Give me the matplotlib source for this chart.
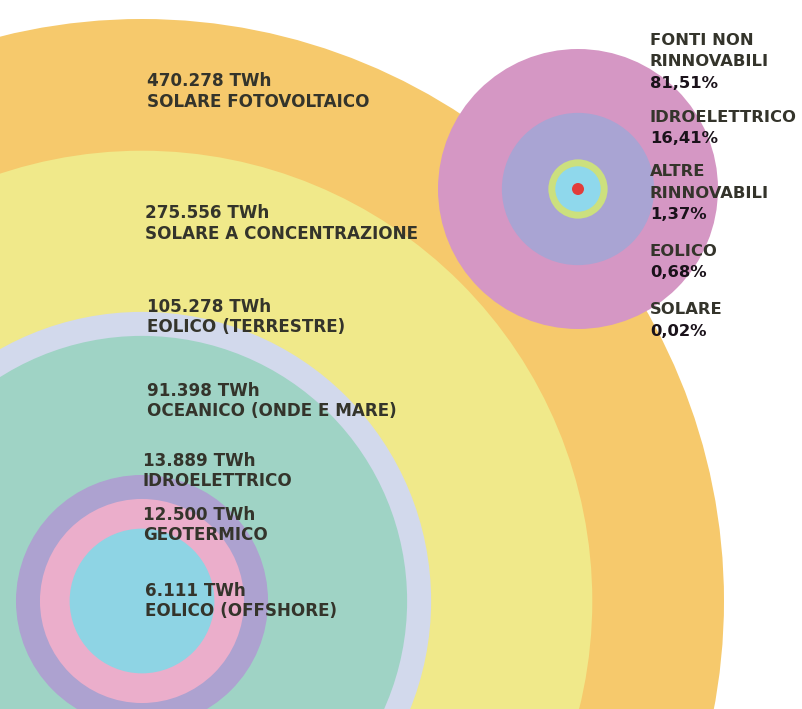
import numpy as np
import matplotlib
matplotlib.use("Agg")
import matplotlib.pyplot as plt
from matplotlib.patches import Circle

# Potenziale tecnico annuo delle fonti rinnovabili (TWh)
sources = ["SOLARE FOTOVOLTAICO", "SOLARE A CONCENTRAZIONE", "EOLICO (TERRESTRE)",
           "OCEANICO (ONDE E MARE)", "IDROELETTRICO", "GEOTERMICO", "EOLICO (OFFSHORE)"]
potential_twh = [470278, 275556, 105278, 91398, 13889, 12500, 6111]
source_colors = ["#F6C96C", "#F0E98A", "#D2D9EC", "#9FD3C5", "#ADA2D0", "#EBAECB", "#8ED4E4"]

# Quota attuale della produzione elettrica mondiale (%)
mix_labels = ["FONTI NON\nRINNOVABILI", "IDROELETTRICO", "ALTRE\nRINNOVABILI", "EOLICO", "SOLARE"]
mix_share = [81.51, 16.41, 1.37, 0.68, 0.02]
mix_colors = ["#D597C4", "#A9A4D3", "#CCE07E", "#8FD8EC", "#E23C3A"]

TEXT = "#34342b"
FONT = ["DejaVu Sans"]
FS = 12.1


def nested_radii(values, r_outer, exponent, min_ring):
    """Radius of each nested disc from its value; thin rings get a minimum width."""
    v = np.asarray(values, dtype=float)
    r = r_outer * (v / v.max()) ** exponent
    out = r.copy()
    prev = 0.0
    for i in np.argsort(v):
        out[i] = max(r[i], prev + min_ring)
        prev = out[i]
    return out


def fmt_twh(v):
    return f"{v:,}".replace(",", ".") + " TWh"


def fmt_pct(v):
    return f"{v:.2f}".replace(".", ",") + "%"


W, H = 803, 709
fig = plt.figure(figsize=(W / 100, H / 100), dpi=100)
ax = fig.add_axes([0, 0, 1, 1])
ax.set_xlim(0, W)
ax.set_ylim(H, 0)
ax.axis("off")

# --- potenziale: cerchi concentrici ---
big_center = (142, 601)
big_r = nested_radii(potential_twh, 582, 0.48, 24)
for r, c in zip(big_r, source_colors):
    ax.add_patch(Circle(big_center, r, facecolor=c, edgecolor="none", zorder=1))

label_x = [147, 145, 147, 147, 143, 143, 145]
label_base = [86.5, 218.5, 311.5, 395.5, 465.5, 519.5, 595.5]
for x, y, v, name in zip(label_x, label_base, potential_twh, sources):
    ax.text(x, y, fmt_twh(v), ha="left", va="baseline", fontsize=FS,
            family=FONT, weight="bold", color=TEXT, zorder=5)
    ax.text(x, y + 20.5, name, ha="left", va="baseline", fontsize=FS,
            family=FONT, weight="bold", color=TEXT, zorder=5)

# --- produzione attuale: cerchio annidato ---
mix_center = (578, 189)
mix_r = nested_radii(mix_share, 140, 0.38, 6)
for r, c in zip(mix_r, mix_colors):
    ax.add_patch(Circle(mix_center, r, facecolor=c, edgecolor="none", zorder=2))

mix_x = 650
mix_base = [88, 143, 219, 277, 336]
for y, lab, v in zip(mix_base, mix_labels, mix_share):
    lines = lab.split("\n")
    for k, line in enumerate(lines):
        ly = y - 21.5 * (len(lines) - k)
        ax.text(mix_x, ly, line, ha="left", va="baseline", fontsize=FS - 0.3,
                family=FONT, weight="bold", color=TEXT, zorder=5)
    ax.text(mix_x, y, fmt_pct(v), ha="left", va="baseline", fontsize=FS - 0.3,
            family=FONT, weight="bold", color="#1a121a", zorder=5)

fig.savefig("out.png", dpi=100, facecolor="white")
